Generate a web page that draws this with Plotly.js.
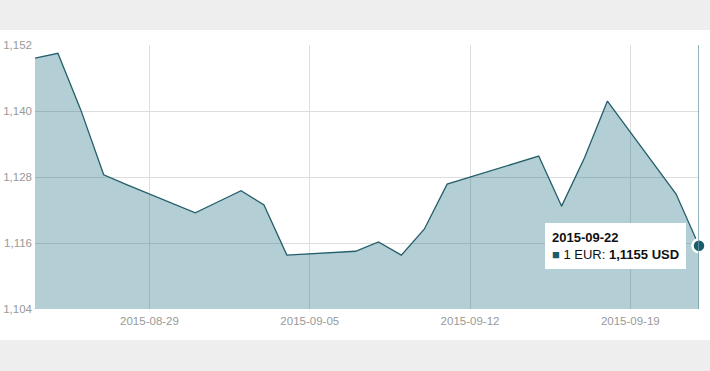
<!DOCTYPE html>
<html>
<head>
<meta charset="utf-8">
<script src="https://cdn.plot.ly/plotly-3.0.1.min.js"></script>
<style>
  html, body { margin: 0; padding: 0; background: #eeeeee; width: 710px; height: 371px; overflow: hidden; }
  #chart { position: absolute; left: 0; top: 30px; width: 710px; height: 310px; }
</style>
</head>
<body>
<div id="chart"></div>
<script>
const dates = [
  '2015-08-24','2015-08-25','2015-08-26','2015-08-27','2015-08-28',
  '2015-08-31','2015-09-01','2015-09-02','2015-09-03','2015-09-04',
  '2015-09-07','2015-09-08','2015-09-09','2015-09-10','2015-09-11',
  '2015-09-14','2015-09-15','2015-09-16','2015-09-17','2015-09-18',
  '2015-09-21','2015-09-22'
];
const rates = [
  1.1496, 1.1505, 1.1402, 1.1284, 1.1266,
  1.1215, 1.1235, 1.1255, 1.1229, 1.1138,
  1.1145, 1.1162, 1.1138, 1.1185, 1.1267,
  1.1305, 1.1318, 1.1227, 1.1315, 1.1418,
  1.1249, 1.1155
];
const yTicks = [1.104, 1.116, 1.128, 1.140, 1.152];
const xTicks = ['2015-08-29', '2015-09-05', '2015-09-12', '2015-09-19'];

const lineColor = '#245e6b';
const lastIdx = dates.length - 1;
const lastDate = dates[lastIdx];
const lastRate = rates[lastIdx];
const fmtRate = lastRate.toFixed(4).replace('.', ',');

const traces = [
  {
    x: dates, y: rates, type: 'scatter', mode: 'lines',
    line: { color: lineColor, width: 1.3 },
    fill: 'tozeroy', fillcolor: 'rgba(2,92,113,0.3)',
    hoverinfo: 'skip'
  },
  {
    x: [lastDate], y: [lastRate], type: 'scatter', mode: 'markers',
    marker: { color: '#1b5d6c', size: 13, line: { color: '#ffffff', width: 2.5 } },
    cliponaxis: false, hoverinfo: 'skip'
  }
];

const layout = {
  width: 710, height: 310,
  margin: { l: 35, r: 11, t: 15, b: 31 },
  paper_bgcolor: '#ffffff', plot_bgcolor: '#ffffff',
  separators: ', ',
  showlegend: false,
  hovermode: false,
  font: { family: '"Liberation Sans", Arial, sans-serif', size: 11.5, color: '#999999' },
  xaxis: {
    type: 'date',
    range: ['2015-08-24', '2015-09-22'],
    tickvals: xTicks,
    ticktext: xTicks,
    showgrid: true, gridcolor: '#dddddd', gridwidth: 1,
    zeroline: false, showline: false, ticks: '',
    ticklabelstandoff: 3,
    tickfont: { size: 11.5, color: '#999999' },
    fixedrange: true
  },
  yaxis: {
    range: [1.104, 1.152],
    tickvals: yTicks,
    tickformat: '.3f',
    showgrid: true, gridcolor: '#dddddd', gridwidth: 1,
    zeroline: false, showline: false, ticks: '',
    ticklabelstandoff: 2,
    tickfont: { size: 11.5, color: '#999999' },
    fixedrange: true
  },
  shapes: [
    {
      type: 'line', xref: 'x', yref: 'paper',
      x0: lastDate, x1: lastDate, y0: 0, y1: 1,
      line: { color: '#6f9ba3', width: 1.5 }
    }
  ],
  annotations: [
    {
      x: lastDate, y: lastRate, xref: 'x', yref: 'y',
      xanchor: 'right', yanchor: 'middle', xshift: -13,
      showarrow: false, align: 'left',
      bgcolor: '#ffffff', borderpad: 7, borderwidth: 0,
      font: { family: '"Liberation Sans", Arial, sans-serif', size: 13, color: '#111111' },
      text: '<b>' + lastDate + '</b><br><span style="color:#1b5d6c">■</span> 1 EUR: <b>' + fmtRate + ' USD</b>'
    }
  ]
};

Plotly.newPlot('chart', traces, layout, { displayModeBar: false, staticPlot: true });
</script>
</body>
</html>
